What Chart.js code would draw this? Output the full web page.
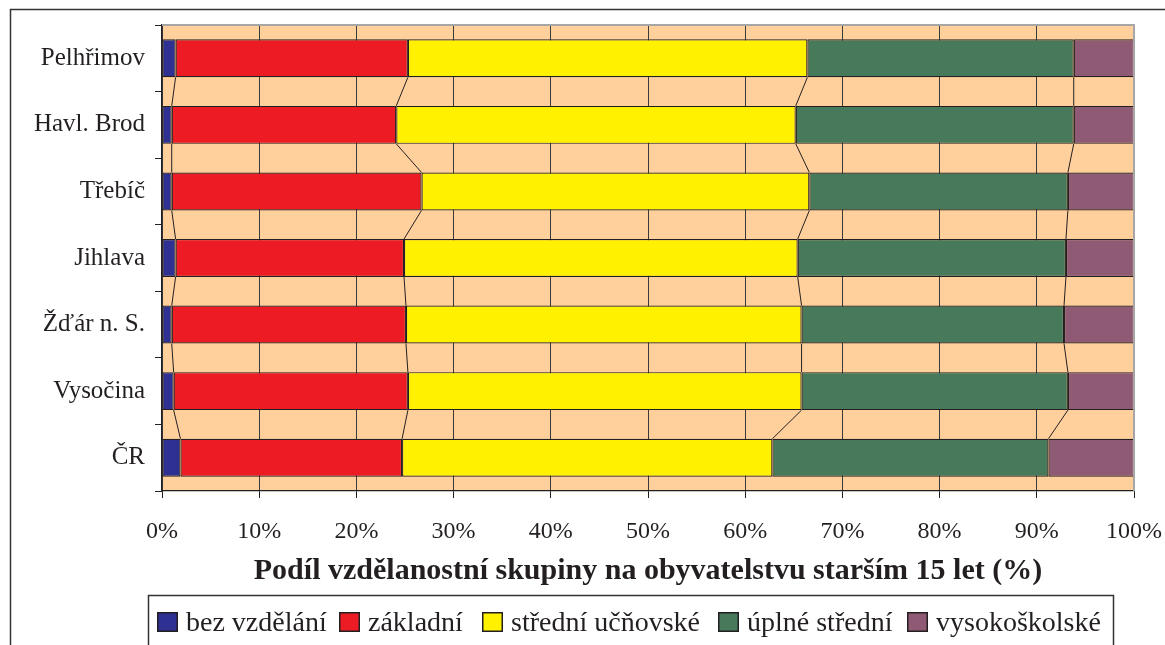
<!DOCTYPE html>
<html>
<head>
<meta charset="utf-8">
<script src="https://cdn.jsdelivr.net/npm/chart.js@4.4.1/dist/chart.umd.min.js"></script>
<style>
  html, body { margin: 0; padding: 0; background: #ffffff; }
  #wrap { width: 1165px; height: 645px; }
</style>
</head>
<body>
<div id="wrap"><canvas id="c" width="1165" height="645"></canvas></div>
<script>
// ---- data ----
const categories = ["Pelhřimov", "Havl. Brod", "Třebíč", "Jihlava", "Žďár n. S.", "Vysočina", "ČR"];
const seriesNames = ["bez vzdělání", "základní", "střední učňovské", "úplné střední", "vysokoškolské"];
const bezVzdelani   = [1.4, 1.0, 1.0, 1.4, 1.0, 1.2, 1.9];
const zakladni      = [23.9, 23.1, 25.7, 23.5, 24.1, 24.1, 22.8];
const stredniUcnov  = [41.1, 41.1, 39.9, 40.5, 40.7, 40.5, 38.1];
const uplneStredni  = [27.4, 28.6, 26.6, 27.6, 27.0, 27.4, 28.4];
const vysokoskolske = [6.2, 6.2, 6.8, 7.0, 7.2, 6.8, 8.8];
const xTickValues = [0, 10, 20, 30, 40, 50, 60, 70, 80, 90, 100];
const axisTitle = "Podíl vzdělanostní skupiny na obyvatelstvu starším 15 let (%)";

const seriesValues = [bezVzdelani, zakladni, stredniUcnov, uplneStredni, vysokoskolske];
const seriesColors = ["#2E3192", "#ED1C24", "#FFF100", "#477A5B", "#8E5A74"];

const INK = "#231F20";
const SERIF = "'Liberation Serif', 'Times New Roman', serif";

const datasets = seriesNames.map((name, i) => ({
  label: name,
  data: seriesValues[i],
  backgroundColor: seriesColors[i],
  borderColor: INK,
  borderWidth: 1.2,
  borderSkipped: false,
  barPercentage: 0.57,
  categoryPercentage: 1.0
}));

const decorPlugin = {
  id: 'decor',
  beforeDraw(chart) {
    const ctx = chart.ctx;
    const a = chart.chartArea;
    ctx.save();
    ctx.fillStyle = '#ffffff';
    ctx.fillRect(0, 0, chart.width, chart.height);
    ctx.fillStyle = '#FFD09C';
    ctx.fillRect(a.left, a.top, a.right - a.left, a.bottom - a.top);
    // outer frame
    ctx.strokeStyle = '#333333';
    ctx.lineWidth = 1.5;
    ctx.beginPath();
    ctx.moveTo(10.5, 660);
    ctx.lineTo(10.5, 9.5);
    ctx.lineTo(1170, 9.5);
    ctx.stroke();
    ctx.restore();
  },
  afterDatasetsDraw(chart) {
    const ctx = chart.ctx;
    const a = chart.chartArea;
    ctx.save();
    // series lines between bars
    ctx.strokeStyle = INK;
    ctx.lineWidth = 1;
    for (let d = 0; d < chart.data.datasets.length - 1; d++) {
      const meta = chart.getDatasetMeta(d);
      for (let i = 0; i < meta.data.length - 1; i++) {
        const e1 = meta.data[i], e2 = meta.data[i + 1];
        ctx.beginPath();
        ctx.moveTo(e1.x, e1.y + e1.height / 2);
        ctx.lineTo(e2.x, e2.y - e2.height / 2);
        ctx.stroke();
      }
    }
    // plot area border top/right (gray)
    ctx.strokeStyle = '#A6A6A6';
    ctx.lineWidth = 2;
    ctx.beginPath();
    ctx.moveTo(a.left, a.top);
    ctx.lineTo(a.right, a.top);
    ctx.lineTo(a.right, a.bottom);
    ctx.stroke();
    ctx.restore();
  },
  afterDraw(chart) {
    const ctx = chart.ctx;
    ctx.save();
    // legend box
    ctx.strokeStyle = '#333333';
    ctx.lineWidth = 1.5;
    ctx.strokeRect(148.5, 595.5, 965, 80);
    const markerX = [157, 339, 482, 718, 907];
    ctx.font = "28px " + SERIF;
    ctx.textBaseline = 'alphabetic';
    ctx.textAlign = 'left';
    chart.data.datasets.forEach((ds, i) => {
      const x = markerX[i];
      ctx.fillStyle = ds.backgroundColor;
      ctx.fillRect(x, 612, 21, 20);
      ctx.strokeStyle = INK;
      ctx.lineWidth = 1.5;
      ctx.strokeRect(x + 0.75, 612.75, 19.5, 18.5);
      ctx.fillStyle = INK;
      ctx.fillText(ds.label, x + 29, 631);
    });
    ctx.restore();
  }
};

new Chart(document.getElementById('c'), {
  type: 'bar',
  data: { labels: categories, datasets },
  plugins: [decorPlugin],
  options: {
    responsive: false,
    animation: false,
    indexAxis: 'y',
    layout: { autoPadding: false, padding: { left: 10, top: 25, right: 31, bottom: 56 } },
    plugins: { legend: { display: false }, tooltip: { enabled: false } },
    scales: {
      x: {
        stacked: true,
        min: 0,
        max: 100,
        afterBuildTicks: (axis) => { axis.ticks = xTickValues.map(v => ({ value: v })); },
        afterFit: (axis) => {
          axis.height = 98;
          axis.paddingLeft = 0;
          axis.paddingRight = 0;
        },
        ticks: {
          callback: (v) => v + '%',
          font: { family: SERIF, size: 24 },
          color: INK,
          padding: 19,
          maxRotation: 0
        },
        grid: {
          color: (c) => (c.tick && c.tick.value === 100) ? 'rgba(0,0,0,0)' : '#3A3A3A',
          tickColor: INK,
          tickLength: 7,
          lineWidth: 1
        },
        border: { color: INK, width: 1.2 },
        title: {
          display: true,
          text: axisTitle,
          font: { family: SERIF, size: 30, weight: 'bold' },
          color: INK,
          padding: { top: 0, bottom: 0 }
        }
      },
      y: {
        stacked: true,
        afterFit: (axis) => {
          axis.width = 152;
          axis.paddingTop = 0;
          axis.paddingBottom = 0;
        },
        ticks: {
          font: { family: SERIF, size: 25 },
          color: INK,
          padding: 10
        },
        grid: {
          offset: true,
          drawOnChartArea: false,
          color: INK,
          tickLength: 7
        },
        border: { color: INK, width: 1.2 }
      }
    }
  }
});
</script>
</body>
</html>
